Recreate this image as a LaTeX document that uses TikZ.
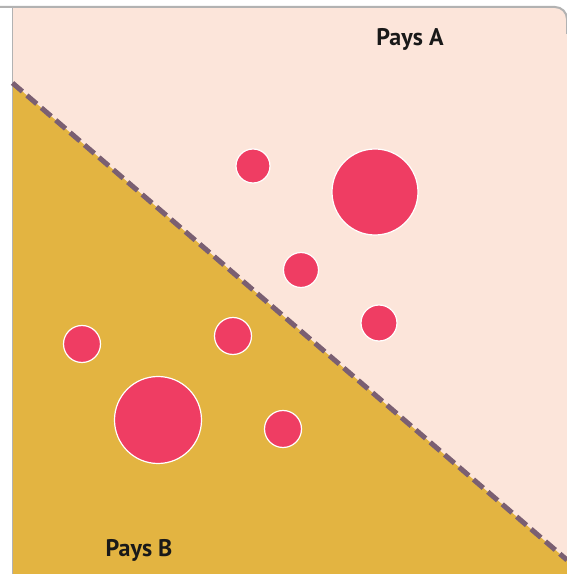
\documentclass[tikz,border=0pt]{standalone}
\usepackage{fontspec}
\setmainfont{PT Sans}
\begin{document}
\begin{tikzpicture}[x=1pt,y=1pt,
  dot/.style={circle,fill=dotred,draw=white,line width=1.2pt,inner sep=0pt,minimum size=#1},
  lbl/.style={font=\bfseries\fontsize{24}{28}\selectfont,text=black!90},
  border/.style={draw=black!30,line width=2pt}]
\definecolor{pinkbg}{HTML}{FCE5DA}
\definecolor{goldbg}{HTML}{E3B441}
\definecolor{dashc}{HTML}{7A5F72}
\definecolor{dotred}{HTML}{EF3D63}
\useasboundingbox (0,0) rectangle (567,574);
\fill[white] (0,0) rectangle (567,574);
% panel
\fill[pinkbg] (12.5,0) -- (12.5,567) -- (555,567) arc[start angle=90,end angle=0,radius=12] -- (567,0) -- cycle;
\coordinate (d1) at (12.5,491);
\coordinate (d2) at (567,14);
\fill[goldbg] (d1) -- (d2) -- (567,0) -- (12.5,0) -- cycle;
\draw[border] (0,567) -- (555,567) arc[start angle=90,end angle=0,radius=12] -- (567,540);
\draw[draw=black!30,line width=1.2pt] (12.5,0) -- (12.5,567);
\draw[dashc,line width=5pt,dash pattern=on 13pt off 6pt] (d1) -- (d2);
% dots
\node[dot=34pt] (a1) at (253,408) {};
\node[dot=86pt] (a2) at (375,382) {};
\node[dot=35pt] (a3) at (301,304) {};
\node[dot=36pt] (a4) at (379,251) {};
\node[dot=37pt] (b1) at (82,230) {};
\node[dot=37pt] (b2) at (233,238) {};
\node[dot=87pt] (b3) at (158,154) {};
\node[dot=37pt] (b4) at (283,145) {};
% labels
\node[lbl] (pa) at (410,535) {Pays A};
\node[lbl] (pb) at (139,24) {Pays B};
\end{tikzpicture}
\end{document}
